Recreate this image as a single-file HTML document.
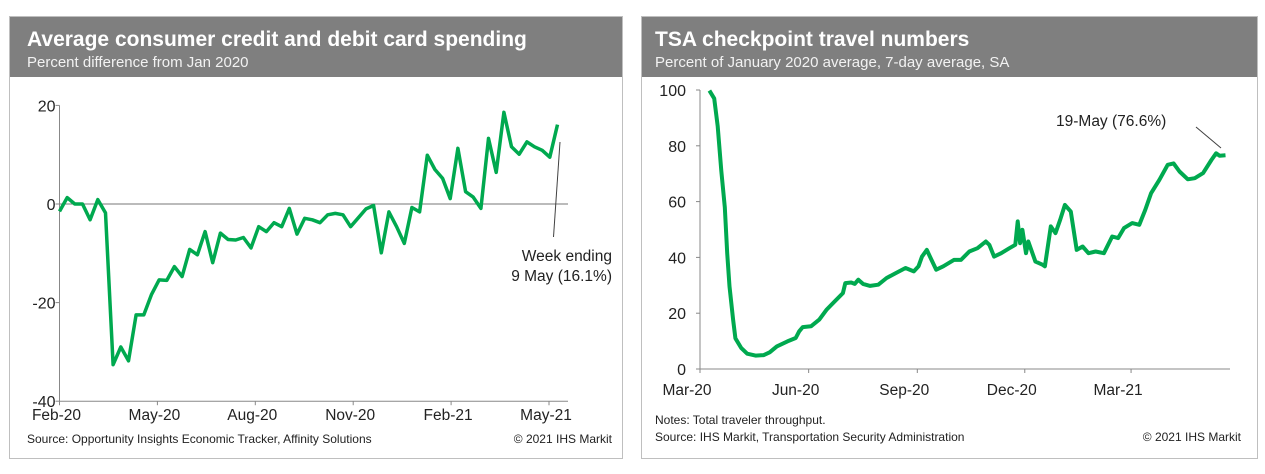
<!DOCTYPE html>
<html><head><meta charset="utf-8">
<style>
body{margin:0;background:#fff;width:1265px;height:469px;overflow:hidden;font-family:"Liberation Sans",Arial,sans-serif}
svg text{font-family:"Liberation Sans",Arial,sans-serif}
</style></head>
<body>
<svg id="svg" width="1265" height="469" viewBox="0 0 1265 469">
  <g>
    <rect x="9.5" y="16.5" width="613" height="442" fill="#fff" stroke="#bfbfbf"/>
    <rect x="10" y="17" width="612" height="60" fill="#7f7f7f"/>
    <text x="27" y="46" font-size="21" font-weight="bold" fill="#fff">Average consumer credit and debit card spending</text>
    <text x="27" y="67" font-size="15" fill="#f2f2f2">Percent difference from Jan 2020</text>
    <g id="leftAxes"></g>
    <path id="leftLine" fill="none" stroke="#00a94f" stroke-width="3.5" stroke-linejoin="round"/>
    <line x1="560" y1="142" x2="553.5" y2="237" stroke="#404040" stroke-width="1"/>
    <text x="612" y="261" font-size="15.5" text-anchor="end" fill="#222">Week ending</text>
    <text x="612" y="281" font-size="15.5" text-anchor="end" fill="#222">9 May (16.1%)</text>
    <text x="27" y="443" font-size="12" fill="#222">Source: Opportunity Insights Economic Tracker, Affinity Solutions</text>
    <text x="612" y="443" font-size="12" text-anchor="end" fill="#222">© 2021 IHS Markit</text>
  </g>
  <g>
    <rect x="641.5" y="16.5" width="616" height="442" fill="#fff" stroke="#bfbfbf"/>
    <rect x="642" y="17" width="615" height="60" fill="#7f7f7f"/>
    <text x="655" y="46" font-size="21" font-weight="bold" fill="#fff">TSA checkpoint travel numbers</text>
    <text x="655" y="67" font-size="15" fill="#f2f2f2">Percent of January 2020 average, 7-day average, SA</text>
    <g id="rightAxes"></g>
    <path id="rightLine" fill="none" stroke="#00a94f" stroke-width="4" stroke-linejoin="round"/>
    <line x1="1196" y1="127" x2="1221" y2="148" stroke="#404040" stroke-width="1"/>
    <text x="1056" y="126" font-size="15.5" fill="#222">19-May (76.6%)</text>
    <text x="655" y="424" font-size="12" fill="#222">Notes: Total traveler throughput.</text>
    <text x="655" y="441" font-size="12" fill="#222">Source: IHS Markit, Transportation Security Administration</text>
    <text x="1241" y="441" font-size="12" text-anchor="end" fill="#222">© 2021 IHS Markit</text>
  </g>
</svg>
<script>
// Left chart data (weekly)
const leftValues = [-1.5,1.3,0,0,-3.2,0.9,-1.8,-32.6,-29,-31.8,-22.5,-22.5,-18.4,-15.4,-15.5,-12.7,-14.7,-9.2,-10.3,-5.6,-11.9,-5.9,-7.2,-7.3,-6.8,-8.9,-4.6,-5.6,-3.8,-4.6,-0.9,-6.1,-2.9,-3.2,-3.8,-2.2,-1.9,-2.2,-4.6,-2.8,-1.0,-0.3,-9.9,-1.6,-4.6,-8.0,-0.7,-1.6,9.9,7.0,5.2,1.1,11.3,2.5,1.4,-0.9,13.3,6.4,18.6,11.6,10.1,12.6,11.6,10.9,9.5,16.1];
const leftYTicks = [20,0,-20,-40];
const leftXTickLabels = ["Feb-20","May-20","Aug-20","Nov-20","Feb-21","May-21"];
const leftXTickMonths = [0,3,6,9,12,15];
// Right chart data (days since 1 Mar 2020, percent)
const rightDays = [8,12,15,18,21,23,25,28,30,35,40,47,54,59,65,74,81,84,87,94,101,107,114,121,123,128,131,134,138,144,151,158,166,174,181,185,188,192,196,200,206,215,221,228,235,242,245,249,255,262,267,269,271,273,276,278,284,290,292,297,301,305,309,314,319,324,329,335,342,349,354,359,366,372,377,382,389,396,401,406,413,419,426,433,437,440,445];
const rightValues = [99.8,97,87,71,58,41.5,29.6,17.7,11,7.5,5.5,4.8,5,6,8.1,9.9,11.1,13.5,15,15.3,17.7,21.2,24.2,27.2,30.8,31,30.5,32,30.5,29.8,30.2,32.6,34.4,36.2,35,36.8,40.3,42.7,39.1,35.6,36.8,39.1,39.1,42.1,43.3,45.7,44.5,40.3,41.5,43.3,44.5,52.9,45.1,49.9,41.5,45.7,38.5,37.4,36.8,51.1,48.7,53.5,58.8,56.4,42.7,43.9,41.5,42.1,41.5,47.5,46.9,50.5,52.3,51.7,57,63,67.8,73.2,73.7,70.8,68,68.4,70.2,74.9,77.3,76.4,76.6];
const rightYTicks = [0,20,40,60,80,100];
const rightXTickLabels = ["Mar-20","Jun-20","Sep-20","Dec-20","Mar-21"];
const rightXTickDays = [0,92,184,275,365];

const NS="http://www.w3.org/2000/svg";
function mk(tag,attrs,parent,txt){const e=document.createElementNS(NS,tag);for(const k in attrs)e.setAttribute(k,attrs[k]);if(txt!==undefined)e.textContent=txt;parent.appendChild(e);return e;}

// Left axes
const lx0=59.5,lxEnd=557.5,lAxisEnd=568;
const lxIdx=i=>lx0+i*(lxEnd-lx0)/(leftValues.length-1);
const lxMonth=m=>lx0+m*(549-lx0)/15;
const ly=v=>204-v*4.93;
const la=document.getElementById('leftAxes');
let e=mk('line',{x1:lx0,y1:ly(20),x2:lx0,y2:ly(-40),stroke:'#888'},la);


e=mk('line',{x1:lx0,y1:ly(-40),x2:lAxisEnd,y2:ly(-40),stroke:'#888'},la);


e=mk('line',{x1:lx0,y1:ly(0),x2:lAxisEnd,y2:ly(0),stroke:'#777'},la);


leftYTicks.forEach(v=>{
  mk('line',{x1:lx0-4,y1:ly(v),x2:lx0,y2:ly(v),stroke:'#888'},la);
  const t=mk('text',{x:lx0-4,y:ly(v)+6,'font-size':16,'text-anchor':'end',fill:'#222'},la,String(v));
  
  
});
leftXTickLabels.forEach((lab,i)=>{
  const x=lxMonth(leftXTickMonths[i]);
  mk('line',{x1:x,y1:ly(-40),x2:x,y2:ly(-40)+4,stroke:'#888'},la);
  const t=mk('text',{x:x-3,y:420,'font-size':15.5,'text-anchor':'middle',fill:'#222'},la,lab);
  
  
});
document.getElementById('leftLine').setAttribute('d',leftValues.map((v,i)=>(i?'L':'M')+lxIdx(i).toFixed(1)+','+ly(v).toFixed(1)).join(''));

// Right axes
const rx0=700,rxd=d=>rx0+d*1.181,ry=v=>369-v*2.79,rAxisEnd=1230;
const ra=document.getElementById('rightAxes');
e=mk('line',{x1:rx0,y1:ry(0),x2:rx0,y2:ry(100),stroke:'#888'},ra);


e=mk('line',{x1:rx0,y1:ry(0),x2:rAxisEnd,y2:ry(0),stroke:'#888'},ra);


rightYTicks.forEach(v=>{
  mk('line',{x1:rx0-4,y1:ry(v),x2:rx0,y2:ry(v),stroke:'#888'},ra);
  const t=mk('text',{x:rx0-14,y:ry(v)+6,'font-size':16,'text-anchor':'end',fill:'#222'},ra,String(v));
  
  
});
rightXTickLabels.forEach((lab,i)=>{
  const x=rxd(rightXTickDays[i]);
  mk('line',{x1:x,y1:ry(0),x2:x,y2:ry(0)+4,stroke:'#888'},ra);
  const t=mk('text',{x:x-13,y:395,'font-size':15.5,'text-anchor':'middle',fill:'#222'},ra,lab);
  
  
});
document.getElementById('rightLine').setAttribute('d',rightDays.map((d,i)=>(i?'L':'M')+rxd(d).toFixed(1)+','+ry(rightValues[i]).toFixed(1)).join(''));
</script>
</body></html>
